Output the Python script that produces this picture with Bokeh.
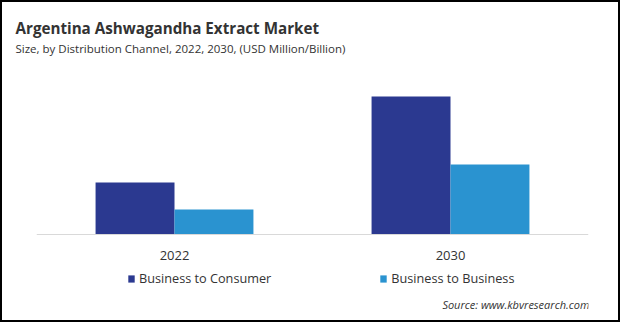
from bokeh.plotting import figure
from bokeh.models import ColumnDataSource, FactorRange, Range1d, Title, Legend, LegendItem, Label
from bokeh.transform import dodge
from bokeh.embed import file_html
from bokeh.resources import INLINE

years = ["2022", "2030"]
series_names = ["Business to Consumer", "Business to Business"]
b2c = [5.2, 13.8]
b2b = [2.5, 7.0]

C_B2C = "#2b3990"
C_B2B = "#2a93d0"
TXT = "#333333"
FONT = "Open Sans"

src = ColumnDataSource(dict(year=years, b2c=b2c, b2b=b2b))

p = figure(width=620, height=322, x_range=FactorRange(*years, range_padding=0),
           y_range=Range1d(-9.0, 17.2), output_backend="svg", toolbar_location=None,
           title=None, min_border_left=34, min_border_right=34,
           min_border_top=60, min_border_bottom=0)
p.styles = {"border": "2px solid #000000"}

r1 = p.vbar(x=dodge("year", -0.143, range=p.x_range), top="b2c", width=0.286,
            source=src, color=C_B2C, line_color=None)
r2 = p.vbar(x=dodge("year", 0.143, range=p.x_range), top="b2b", width=0.286,
            source=src, color=C_B2B, line_color=None)

p.yaxis.visible = False
p.grid.visible = False
p.outline_line_color = None
p.background_fill_color = "white"
p.border_fill_color = "white"

ax = p.xaxis[0]
ax.fixed_location = 0
ax.axis_line_color = "#d9d9d9"
ax.axis_line_width = 1
ax.major_tick_line_color = None
ax.minor_tick_line_color = None
ax.major_label_text_font = FONT
ax.major_label_text_font_size = "13px"
ax.major_label_text_color = TXT
ax.major_label_standoff = 10

legend = Legend(items=[LegendItem(label=series_names[0], renderers=[r1]),
                       LegendItem(label=series_names[1], renderers=[r2])],
                orientation="horizontal", location=(91, 37),
                glyph_width=8, glyph_height=9, label_standoff=4, spacing=108,
                label_text_font=FONT, label_text_font_size="12.7px",
                label_text_color=TXT, border_line_color=None,
                background_fill_alpha=0, padding=0, margin=0)
p.add_layout(legend, "center")

src_label = Label(x=553, y=20, x_units="screen", y_units="screen",
                  text="Source: www.kbvresearch.com", text_align="right",
                  text_baseline="middle", text_font=FONT, text_font_size="11px",
                  text_font_style="italic", text_color=TXT)
p.add_layout(src_label)

sub = Title(text="Size, by Distribution Channel, 2022, 2030, (USD Million/Billion)",
            text_font=FONT, text_font_size="11.5px", text_font_style="normal",
            text_color=TXT, standoff=13, offset=-21)
p.add_layout(sub, "above")
main = Title(text="Argentina Ashwagandha Extract Market", text_font=FONT,
             text_font_size="15.2px", text_font_style="bold", text_color=TXT,
             standoff=-10, offset=-21)
p.add_layout(main, "above")

open("out.html", "w").write(file_html(p, INLINE))
